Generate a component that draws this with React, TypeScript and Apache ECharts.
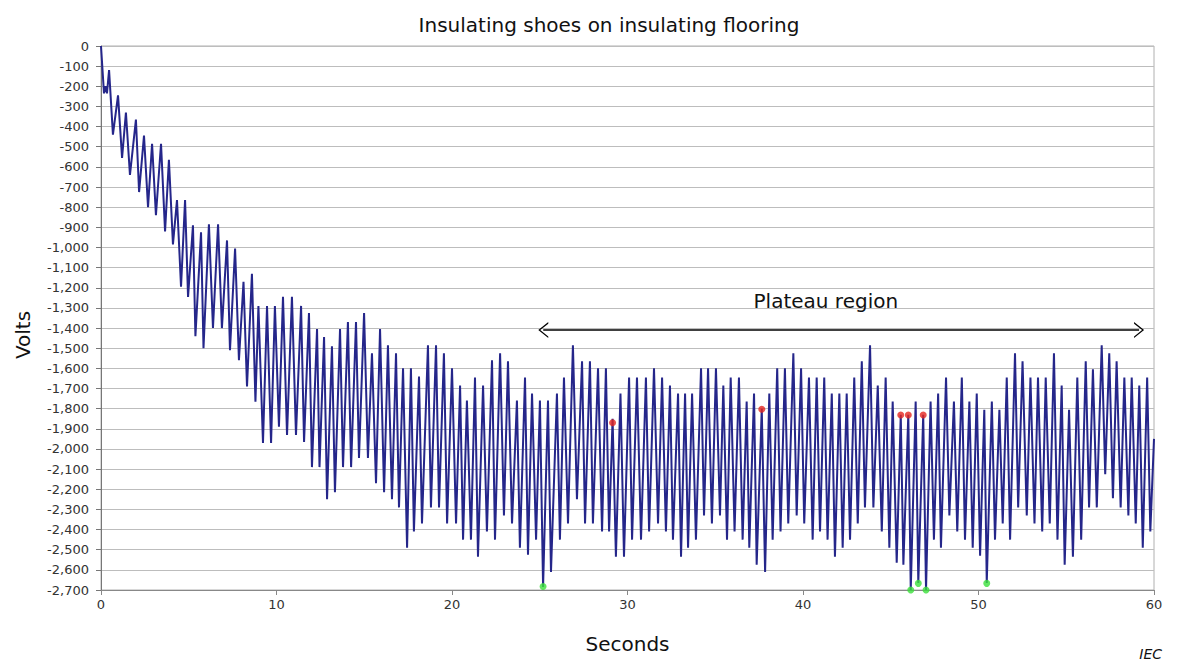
import React, { useEffect, useRef } from "react";
import * as echarts from "echarts";

// Title / labels
const chartTitle = "Insulating shoes on insulating flooring";
const xAxisName = "Seconds";
const yAxisName = "Volts";
const sourceNote = "IEC";
const plateauText = "Plateau region";

// Voltage trace: [seconds, volts] at each turning point
const rampSegment: [number, number][] = [
  [0, 0], [0.17, -235], [0.26, -200], [0.34, -235], [0.46, -120], [0.68, -440], [0.97, -245], [1.2, -555], [1.42, -330], [1.65, -640],
  [1.99, -365], [2.17, -725], [2.45, -445], [2.68, -800], [2.91, -485], [3.13, -840], [3.42, -485], [3.65, -920], [3.87, -565], [4.1, -985],
  [4.33, -765], [4.56, -1195], [4.79, -765], [4.96, -1245], [5.24, -890], [5.38, -1440], [5.7, -925], [5.84, -1500], [6.15, -885], [6.38, -1400],
  [6.67, -885], [6.89, -1400], [7.18, -965], [7.35, -1510], [7.64, -1005], [7.86, -1560], [8.12, -1170], [8.32, -1690], [8.6, -1130], [8.8, -1765],
  [8.97, -1290], [9.23, -1970], [9.46, -1290], [9.69, -1970], [9.91, -1290], [10.14, -1890], [10.37, -1245], [10.6, -1930], [10.88, -1245], [11.11, -1930],
  [11.4, -1290], [11.57, -1965], [11.85, -1325], [12.02, -2090], [12.31, -1405], [12.45, -2090], [12.71, -1445], [12.88, -2250], [13.16, -1490], [13.33, -2215],
  [13.62, -1405], [13.79, -2090], [14.07, -1370], [14.25, -2090], [14.53, -1370], [14.7, -2045], [14.99, -1325], [15.21, -2045], [15.44, -1525], [15.67, -2170],
  [15.9, -1405], [16.13, -2215],
];

const plateauEarly: [number, number][] = [
  [16.35, -1485], [16.58, -2250], [16.81, -1525], [16.98, -2290], [17.21, -1600], [17.44, -2490], [17.66, -1600], [17.83, -2410], [18.12, -1640], [18.29, -2370],
  [18.63, -1485], [18.8, -2290], [19.09, -1485], [19.26, -2290], [19.54, -1525], [19.72, -2370], [20.0, -1600], [20.23, -2370], [20.46, -1685], [20.63, -2450],
  [20.85, -1760], [21.08, -2450], [21.31, -1645], [21.48, -2535], [21.77, -1685], [21.99, -2410], [22.28, -1560], [22.45, -2450], [22.74, -1525], [22.96, -2330],
  [23.19, -1565], [23.42, -2370], [23.7, -1760], [23.87, -2490], [24.16, -1645], [24.33, -2525], [24.56, -1725], [24.79, -2450], [25.01, -1760], [25.19, -2685],
  [25.47, -1760], [25.64, -2610], [25.98, -1725], [26.15, -2450], [26.38, -1645], [26.61, -2370], [26.89, -1485], [27.12, -2250], [27.41, -1565], [27.58, -2370],
  [27.86, -1565], [28.03, -2370], [28.32, -1600], [28.55, -2410], [28.77, -1600], [28.95, -2410], [29.15, -1850], [29.34, -2535], [29.6, -1725], [29.8, -2535],
  [30.09, -1645], [30.26, -2450], [30.54, -1645], [30.77, -2450], [31.05, -1645], [31.23, -2410], [31.51, -1600], [31.74, -2370], [31.97, -1645], [32.19, -2410],
  [32.42, -1685], [32.59, -2450], [32.88, -1725], [33.05, -2535], [33.28, -1725], [33.45, -2490], [33.68, -1725], [33.9, -2450], [34.19, -1600], [34.36, -2330],
  [34.59, -1600], [34.81, -2370],
];

const plateauLate: [number, number][] = [
  [35.04, -1600], [35.27, -2330], [35.46, -1685], [35.67, -2450], [35.88, -1645], [36.1, -2410], [36.35, -1645], [36.56, -2450], [36.79, -1765], [36.94, -2490],
  [37.21, -1725], [37.36, -2575], [37.65, -1800], [37.84, -2610], [38.08, -1725], [38.27, -2450], [38.53, -1600], [38.72, -2410], [38.97, -1600], [39.16, -2370],
  [39.45, -1525], [39.64, -2330], [39.89, -1600], [40.07, -2370], [40.34, -1645], [40.55, -2450], [40.78, -1645], [40.97, -2410], [41.21, -1645], [41.4, -2450],
  [41.64, -1725], [41.82, -2535], [42.07, -1725], [42.26, -2490], [42.49, -1725], [42.68, -2450], [42.92, -1645], [43.12, -2370], [43.35, -1565], [43.53, -2290],
  [43.82, -1485], [44.01, -2290], [44.26, -1685], [44.49, -2410], [44.71, -1645], [44.92, -2490], [45.11, -1765], [45.34, -2565], [45.57, -1830], [45.72, -2575],
  [46.0, -1830], [46.14, -2700], [46.42, -1765], [46.57, -2665], [46.85, -1830], [47.01, -2700], [47.27, -1765], [47.46, -2450], [47.7, -1725], [47.86, -2490],
  [48.15, -1645], [48.34, -2330], [48.6, -1765], [48.79, -2410], [49.05, -1645], [49.23, -2450], [49.48, -1765], [49.67, -2490], [49.9, -1725], [50.09, -2530],
  [50.33, -1805], [50.47, -2665], [50.76, -1765], [50.94, -2450], [51.19, -1805], [51.38, -2370], [51.61, -1645], [51.8, -2450], [52.08, -1525], [52.26, -2290],
  [52.51, -1565], [52.75, -2330], [52.96, -1645], [53.19, -2370], [53.39, -1645], [53.63, -2410], [53.83, -1645], [54.06, -2370], [54.3, -1525], [54.5, -2450],
  [54.74, -1685], [54.91, -2575], [55.16, -1805], [55.38, -2535], [55.63, -1645], [55.85, -2450], [56.11, -1565], [56.3, -2290], [56.52, -1605], [56.74, -2290],
  [57.02, -1485], [57.22, -2125], [57.45, -1525], [57.66, -2245], [57.87, -1565], [58.1, -2290], [58.31, -1645], [58.54, -2330], [58.73, -1645], [58.96, -2370],
  [59.16, -1685], [59.36, -2490], [59.61, -1645], [59.79, -2410], [60.0, -1950],
];

// Highlighted points
const redMarks: [number, number][] = [
  [29.15, -1870], [37.65, -1803], [45.57, -1831], [46.0, -1831], [46.85, -1831],
];
const greenMarks: [number, number][] = [
  [25.19, -2683], [46.14, -2700], [46.57, -2667], [47.01, -2700], [50.47, -2667],
];

// Plateau annotation (data coordinates)
const plateauStart = 25.2;
const plateauEnd = 59.15;
const plateauLevel = -1410;
const plateauLabelAt: [number, number] = [41.3, -1266];

const chevron = "path://M0,10 L5,0 L10,10 L9,10 L5,2 L1,10 Z";

export default function App() {
  const ref = useRef<HTMLDivElement>(null);

  useEffect(() => {
    if (!ref.current) return;
    const chart = echarts.init(ref.current, undefined, { renderer: "svg" });
    const font = "DejaVu Sans";
    const trace = [...rampSegment, ...plateauEarly, ...plateauLate];

    chart.setOption({
      animation: false,
      backgroundColor: "#ffffff",
      textStyle: { fontFamily: font },
      title: [
        {
          text: chartTitle,
          left: 604,
          top: 10,
          textAlign: "center",
          textStyle: { fontSize: 20, fontWeight: "normal", color: "#111", fontFamily: font },
        },
        {
          text: sourceNote,
          right: 11,
          top: 642,
          textStyle: { fontSize: 14, fontStyle: "italic", fontWeight: "normal", color: "#111", fontFamily: font },
        },
      ],
      grid: { left: 101, right: 24, top: 46, bottom: 71, show: true, borderColor: "#b0b0b0", borderWidth: 1 },
      xAxis: {
        type: "value",
        min: 0,
        max: 60,
        interval: 10,
        name: xAxisName,
        nameLocation: "middle",
        nameGap: 44,
        nameTextStyle: { fontSize: 20, color: "#111", fontFamily: font },
        axisLine: { show: true, onZero: false, lineStyle: { color: "#888", width: 1 } },
        axisTick: { show: true, length: 5, lineStyle: { color: "#888" } },
        axisLabel: { fontSize: 13, color: "#333", margin: 8, fontFamily: font },
        splitLine: { show: false },
      },
      yAxis: {
        type: "value",
        min: -2700,
        max: 0,
        interval: 100,
        name: yAxisName,
        nameLocation: "middle",
        nameGap: 68,
        nameRotate: 90,
        nameTextStyle: { fontSize: 20, color: "#111", fontFamily: font, padding: [0, 34, 0, 0] },
        axisLine: { show: true, onZero: false, lineStyle: { color: "#777", width: 1 } },
        axisTick: { show: true, length: 5, lineStyle: { color: "#777" } },
        axisLabel: { fontSize: 13, color: "#333", margin: 12, fontFamily: font },
        splitLine: { show: true, lineStyle: { color: "#bdbdbd", width: 1 } },
      },
      series: [
        {
          type: "line",
          data: trace,
          showSymbol: false,
          symbol: "none",
          clip: false,
          lineStyle: { color: "#25268a", width: 2 },
          z: 2,
          markLine: {
            silent: true,
            symbol: [chevron, chevron],
            symbolSize: [16, 10],
            label: { show: false },
            lineStyle: { color: "#000", width: 1.5, type: "solid" },
            itemStyle: { color: "#000" },
            emphasis: { disabled: true },
            data: [[{ coord: [plateauStart, plateauLevel] }, { coord: [plateauEnd, plateauLevel] }]],
          },
          markPoint: {
            silent: true,
            symbol: "rect",
            symbolSize: 1,
            itemStyle: { color: "rgba(0,0,0,0)" },
            label: { show: true, position: "inside", formatter: plateauText, fontSize: 20, color: "#111", fontFamily: font },
            data: [{ coord: plateauLabelAt }],
          },
        },
        {
          type: "scatter",
          data: redMarks,
          symbol: "circle",
          symbolSize: 7,
          clip: false,
          itemStyle: { color: "#e5261f" },
          z: 5,
        },
        {
          type: "scatter",
          data: greenMarks,
          symbol: "circle",
          symbolSize: 7,
          clip: false,
          itemStyle: { color: "#3be03b" },
          z: 5,
        },
      ],
    });

    return () => chart.dispose();
  }, []);

  return (
    <div
      ref={ref}
      style={{ position: "fixed", left: 0, top: 0, width: 1178, height: 661, background: "#fff" }}
    />
  );
}
